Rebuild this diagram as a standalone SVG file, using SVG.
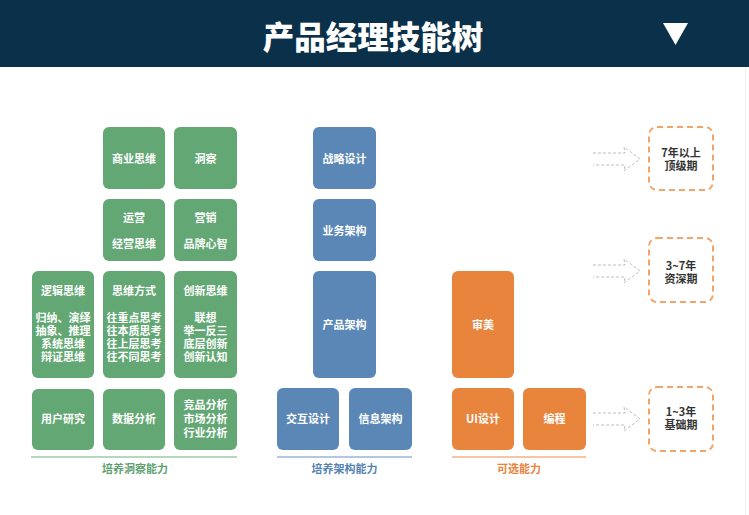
<svg xmlns="http://www.w3.org/2000/svg" width="749" height="515" viewBox="0 0 749 515">
<style>
text{font-family:"Noto Sans CJK SC","Liberation Sans",sans-serif;text-anchor:middle;dominant-baseline:central;font-weight:bold}
.g{fill:#63a874}
.b{fill:#5b87b6}
.o{fill:#e8843c}
.t{fill:#ffffff;font-size:11px}
.d{fill:#ffffff;stroke:#f2a56a;stroke-width:2;stroke-dasharray:6 4}
.dt{fill:#333333;font-size:11px}
.ar{fill:none;stroke:#bdbdbd;stroke-width:1;stroke-dasharray:3 2}
</style>
<rect x="0" y="0" width="749" height="515" fill="#ffffff"/>
<g id="header">
<rect x="0" y="0" width="749" height="67" fill="#0b3049"/>
<text x="373" y="35" fill="#ffffff" style="font-size:31.5px;font-weight:900">产品经理技能树</text>
<polygon points="663,23 688,23 675.5,45" fill="#ffffff"/>
</g>
<line x1="745.5" y1="67" x2="745.5" y2="515" stroke="#eef1f3" stroke-width="1"/>
<g id="n-shangye"><rect class="g" x="103" y="127" width="62" height="62" rx="6"/><text class="t" x="134" y="158">商业思维</text></g>
<g id="n-dongcha"><rect class="g" x="174" y="127" width="63" height="62" rx="6"/><text class="t" x="205.5" y="158">洞察</text></g>
<g id="n-yunying"><rect class="g" x="103" y="199" width="62" height="62" rx="6"/><text class="t" x="134" y="217">运营</text><text class="t" x="134" y="243">经营思维</text></g>
<g id="n-yingxiao"><rect class="g" x="174" y="199" width="63" height="62" rx="6"/><text class="t" x="205.5" y="217">营销</text><text class="t" x="205.5" y="243">品牌心智</text></g>
<g id="n-luoji"><rect class="g" x="32" y="271" width="62" height="107" rx="6"/><text class="t" x="63" y="290">逻辑思维</text><text class="t" x="63" y="317">归纳、演绎<tspan x="63" dy="13">抽象、推理</tspan><tspan x="63" dy="13">系统思维</tspan><tspan x="63" dy="13">辩证思维</tspan></text></g>
<g id="n-siwei"><rect class="g" x="103" y="271" width="62" height="107" rx="6"/><text class="t" x="134" y="290">思维方式</text><text class="t" x="134" y="317">往重点思考<tspan x="134" dy="13">往本质思考</tspan><tspan x="134" dy="13">往上层思考</tspan><tspan x="134" dy="13">往不同思考</tspan></text></g>
<g id="n-chuangxin"><rect class="g" x="174" y="271" width="63" height="107" rx="6"/><text class="t" x="205.5" y="290">创新思维</text><text class="t" x="205.5" y="317">联想<tspan x="205.5" dy="13">举一反三</tspan><tspan x="205.5" dy="13">底层创新</tspan><tspan x="205.5" dy="13">创新认知</tspan></text></g>
<g id="n-yonghu"><rect class="g" x="32" y="389" width="62" height="61" rx="6"/><text class="t" x="63" y="418">用户研究</text></g>
<g id="n-shuju"><rect class="g" x="103" y="389" width="62" height="61" rx="6"/><text class="t" x="134" y="418">数据分析</text></g>
<g id="n-jingpin"><rect class="g" x="174" y="389" width="63" height="61" rx="6"/><text class="t" x="205.5" y="404">竞品分析<tspan x="205.5" dy="14">市场分析</tspan><tspan x="205.5" dy="14">行业分析</tspan></text></g>
<g id="label-green"><rect x="31" y="456" width="206" height="2" fill="#b5d8bd"/><text x="135" y="468" fill="#5da06e" style="font-size:11px">培养洞察能力</text></g>
<g id="n-zhanlue"><rect class="b" x="313" y="127" width="63" height="62" rx="6"/><text class="t" x="344.5" y="158">战略设计</text></g>
<g id="n-yewu"><rect class="b" x="313" y="199" width="63" height="62" rx="6"/><text class="t" x="344.5" y="230">业务架构</text></g>
<g id="n-chanpin"><rect class="b" x="313" y="271" width="63" height="107" rx="6"/><text class="t" x="344.5" y="324">产品架构</text></g>
<g id="n-jiaohu"><rect class="b" x="277" y="388" width="62" height="62" rx="6"/><text class="t" x="308" y="418">交互设计</text></g>
<g id="n-xinxi"><rect class="b" x="349" y="388" width="63" height="62" rx="6"/><text class="t" x="380.5" y="418">信息架构</text></g>
<g id="label-blue"><rect x="277" y="456" width="135" height="2" fill="#b3c7de"/><text x="344.5" y="468" fill="#5583b2" style="font-size:11px">培养架构能力</text></g>
<g id="n-shenmei"><rect class="o" x="452" y="271" width="62" height="107" rx="6"/><text class="t" x="483" y="324">审美</text></g>
<g id="n-ui"><rect class="o" x="452" y="388" width="62" height="62" rx="6"/><text class="t" x="483" y="418">UI设计</text></g>
<g id="n-biancheng"><rect class="o" x="523" y="388" width="63" height="62" rx="6"/><text class="t" x="554.5" y="418">编程</text></g>
<g id="label-orange"><rect x="452" y="456" width="134" height="2" fill="#f6c6a2"/><text x="519" y="468" fill="#e8843c" style="font-size:11px">可选能力</text></g>
<g id="connectors">
<path class="ar" d="M593,153 H625 L624,147 L640,159 L624,171 L625,165 H593"/>
<path class="ar" d="M593,265 H625 L624,259 L640,271 L624,283 L625,277 H593"/>
<path class="ar" d="M593,413 H625 L624,407 L640,419 L624,431 L625,425 H593"/>
</g>
<g id="n-top"><rect class="d" x="649" y="127" width="64" height="63" rx="8"/><text class="dt" x="681" y="152">7年以上<tspan x="681" dy="13">顶级期</tspan></text></g>
<g id="n-mid"><rect class="d" x="649" y="238" width="64" height="64" rx="8"/><text class="dt" x="681" y="265">3~7年<tspan x="681" dy="13">资深期</tspan></text></g>
<g id="n-bot"><rect class="d" x="649" y="387" width="64" height="64" rx="8"/><text class="dt" x="681" y="411">1~3年<tspan x="681" dy="13">基础期</tspan></text></g>
</svg>
